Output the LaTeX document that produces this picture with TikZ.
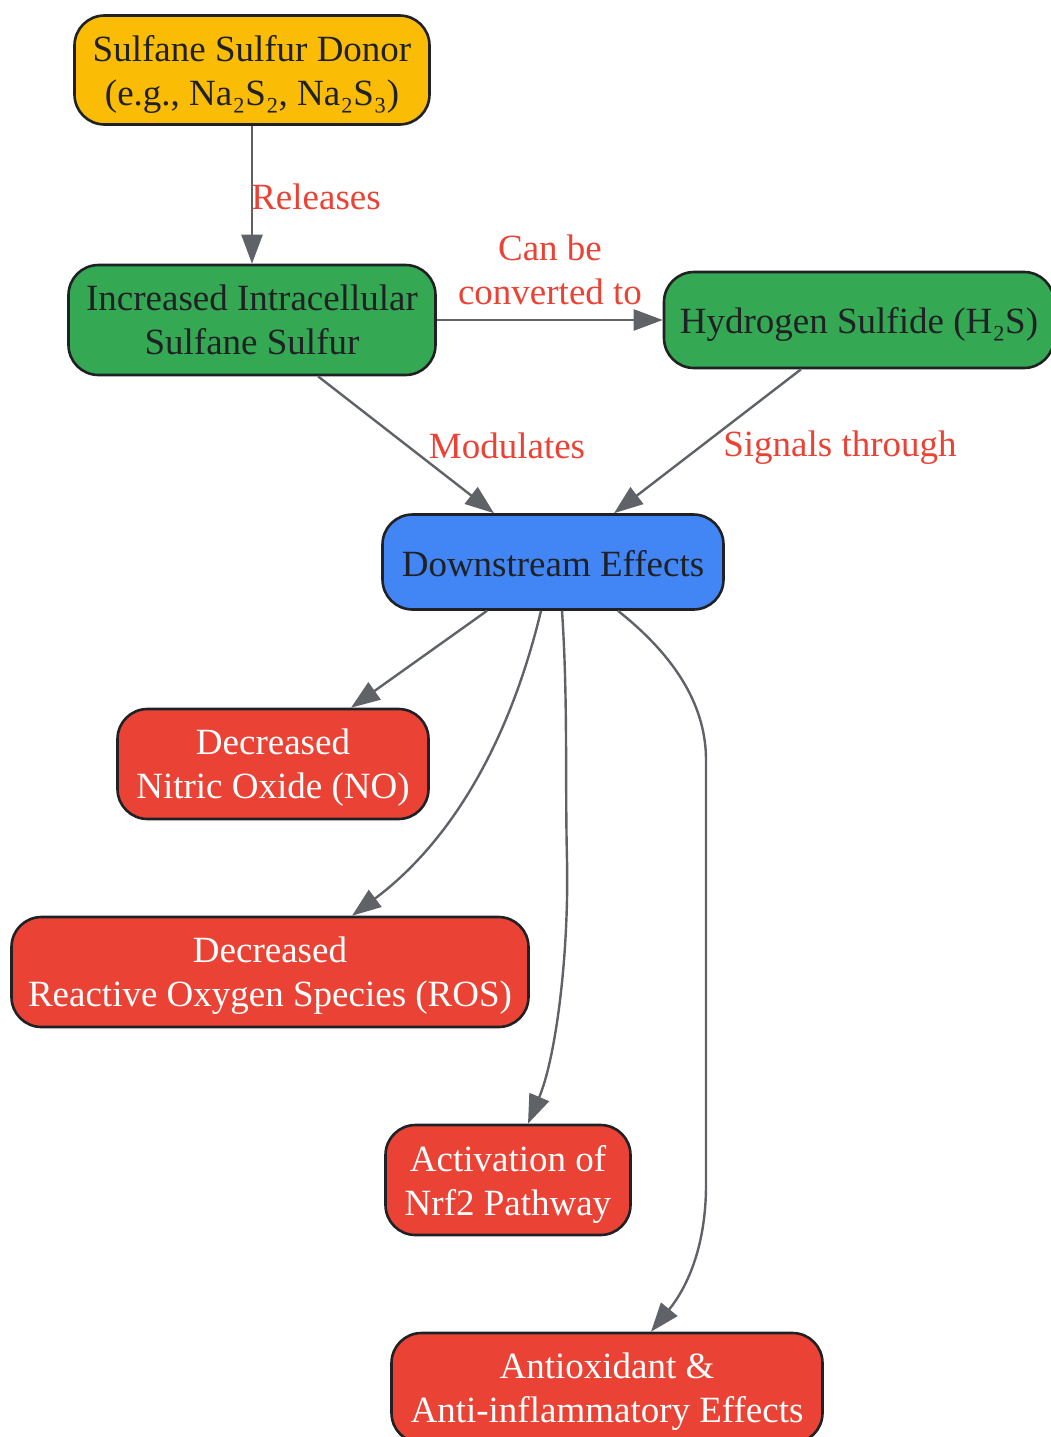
\documentclass[tikz,border=0pt]{standalone}
\usepackage{fontspec}
\setmainfont{Liberation Serif}
\usepackage{tikz}
\usetikzlibrary{arrows.meta}
\definecolor{gyellow}{HTML}{FBBC05}
\definecolor{ggreen}{HTML}{34A853}
\definecolor{gblue}{HTML}{4285F4}
\definecolor{gred}{HTML}{EA4335}
\definecolor{ink}{HTML}{202124}
\definecolor{wire}{HTML}{5F6368}
\tikzstyle{box}=[draw=ink,line width=2.6pt,rounded corners=30pt,inner sep=0pt,align=center,text=ink,text depth=0pt,font=\fontsize{37}{44}\selectfont]
\tikzstyle{donor}=[box,fill=gyellow]
\tikzstyle{pool}=[box,fill=ggreen]
\tikzstyle{hub}=[box,fill=gblue]
\tikzstyle{effect}=[box,fill=gred,text=white]
\tikzstyle{rel}=[draw=wire,line width=2.4pt,-{Triangle[length=29pt,width=21pt]}]
\tikzstyle{lbl}=[text=gred,align=center,inner sep=0pt,font=\fontsize{37}{44}\selectfont]

\begin{document}
\begin{tikzpicture}[x=1pt,y=-1pt]
    \useasboundingbox (0,0) rectangle (1051,1437);
    % sources
    \node[donor,minimum width=355pt,minimum height=109pt] (don) at (252,70) {Sulfane Sulfur Donor\\(e.g., Na₂S₂, Na₂S₃)};
    \node[pool,minimum width=367pt,minimum height=110pt] (incr) at (252,320) {Increased Intracellular\\Sulfane Sulfur};
    \node[pool,minimum width=390pt,minimum height=96pt] (hs) at (859,320) {Hydrogen Sulfide (H₂S)};
    \node[hub,minimum width=341pt,minimum height=95pt] (down) at (553,562) {\raisebox{-3pt}{Downstream Effects}};
    % effects
    \node[effect,minimum width=311pt,minimum height=110pt] (no) at (273,764) {Decreased\\Nitric Oxide (NO)};
    \node[effect,minimum width=517pt,minimum height=110pt] (ros) at (270,972) {Decreased\\Reactive Oxygen Species (ROS)};
    \node[effect,minimum width=245pt,minimum height=110pt] (nrf) at (508,1180) {Activation of\\Nrf2 Pathway};
    \node[effect,minimum width=431pt,minimum height=110pt] (anti) at (607,1388) {Antioxidant \&\\Anti-inflammatory Effects};
    % edges
    \draw[rel] (don) -- (incr);
    \node[lbl] (lrel) at (316,197) {Releases};
    \draw[rel] (incr) -- (hs);
    \node[lbl] (lconv) at (550,270) {Can be\\converted to};
    \draw[rel] ([xshift=66pt]incr.south) -- ([xshift=-59pt]down.north);
    \node[lbl] (lmod) at (507,446) {Modulates};
    \draw[rel] ([xshift=-58pt]hs.south) -- ([xshift=61pt]down.north);
    \node[lbl] (lsig) at (840,448) {Signals through};
    \draw[rel] ([xshift=-66pt]down.south) -- ([xshift=78pt]no.north);
    \draw[rel] ([xshift=-12pt]down.south) .. controls (505,760) and (440,850) .. ([xshift=82pt]ros.north);
    \draw[rel] ([xshift=9pt]down.south) .. controls (568,700) and (565,780) .. (567,860)
        .. controls (569,960) and (555,1060) .. ([xshift=20pt]nrf.north);
    \draw[rel] ([xshift=65pt]down.south) .. controls (680,660) and (706,710) .. (706,760) -- (706,1185)
        .. controls (706,1250) and (685,1290) .. ([xshift=44pt]anti.north);
\end{tikzpicture}
\end{document}
